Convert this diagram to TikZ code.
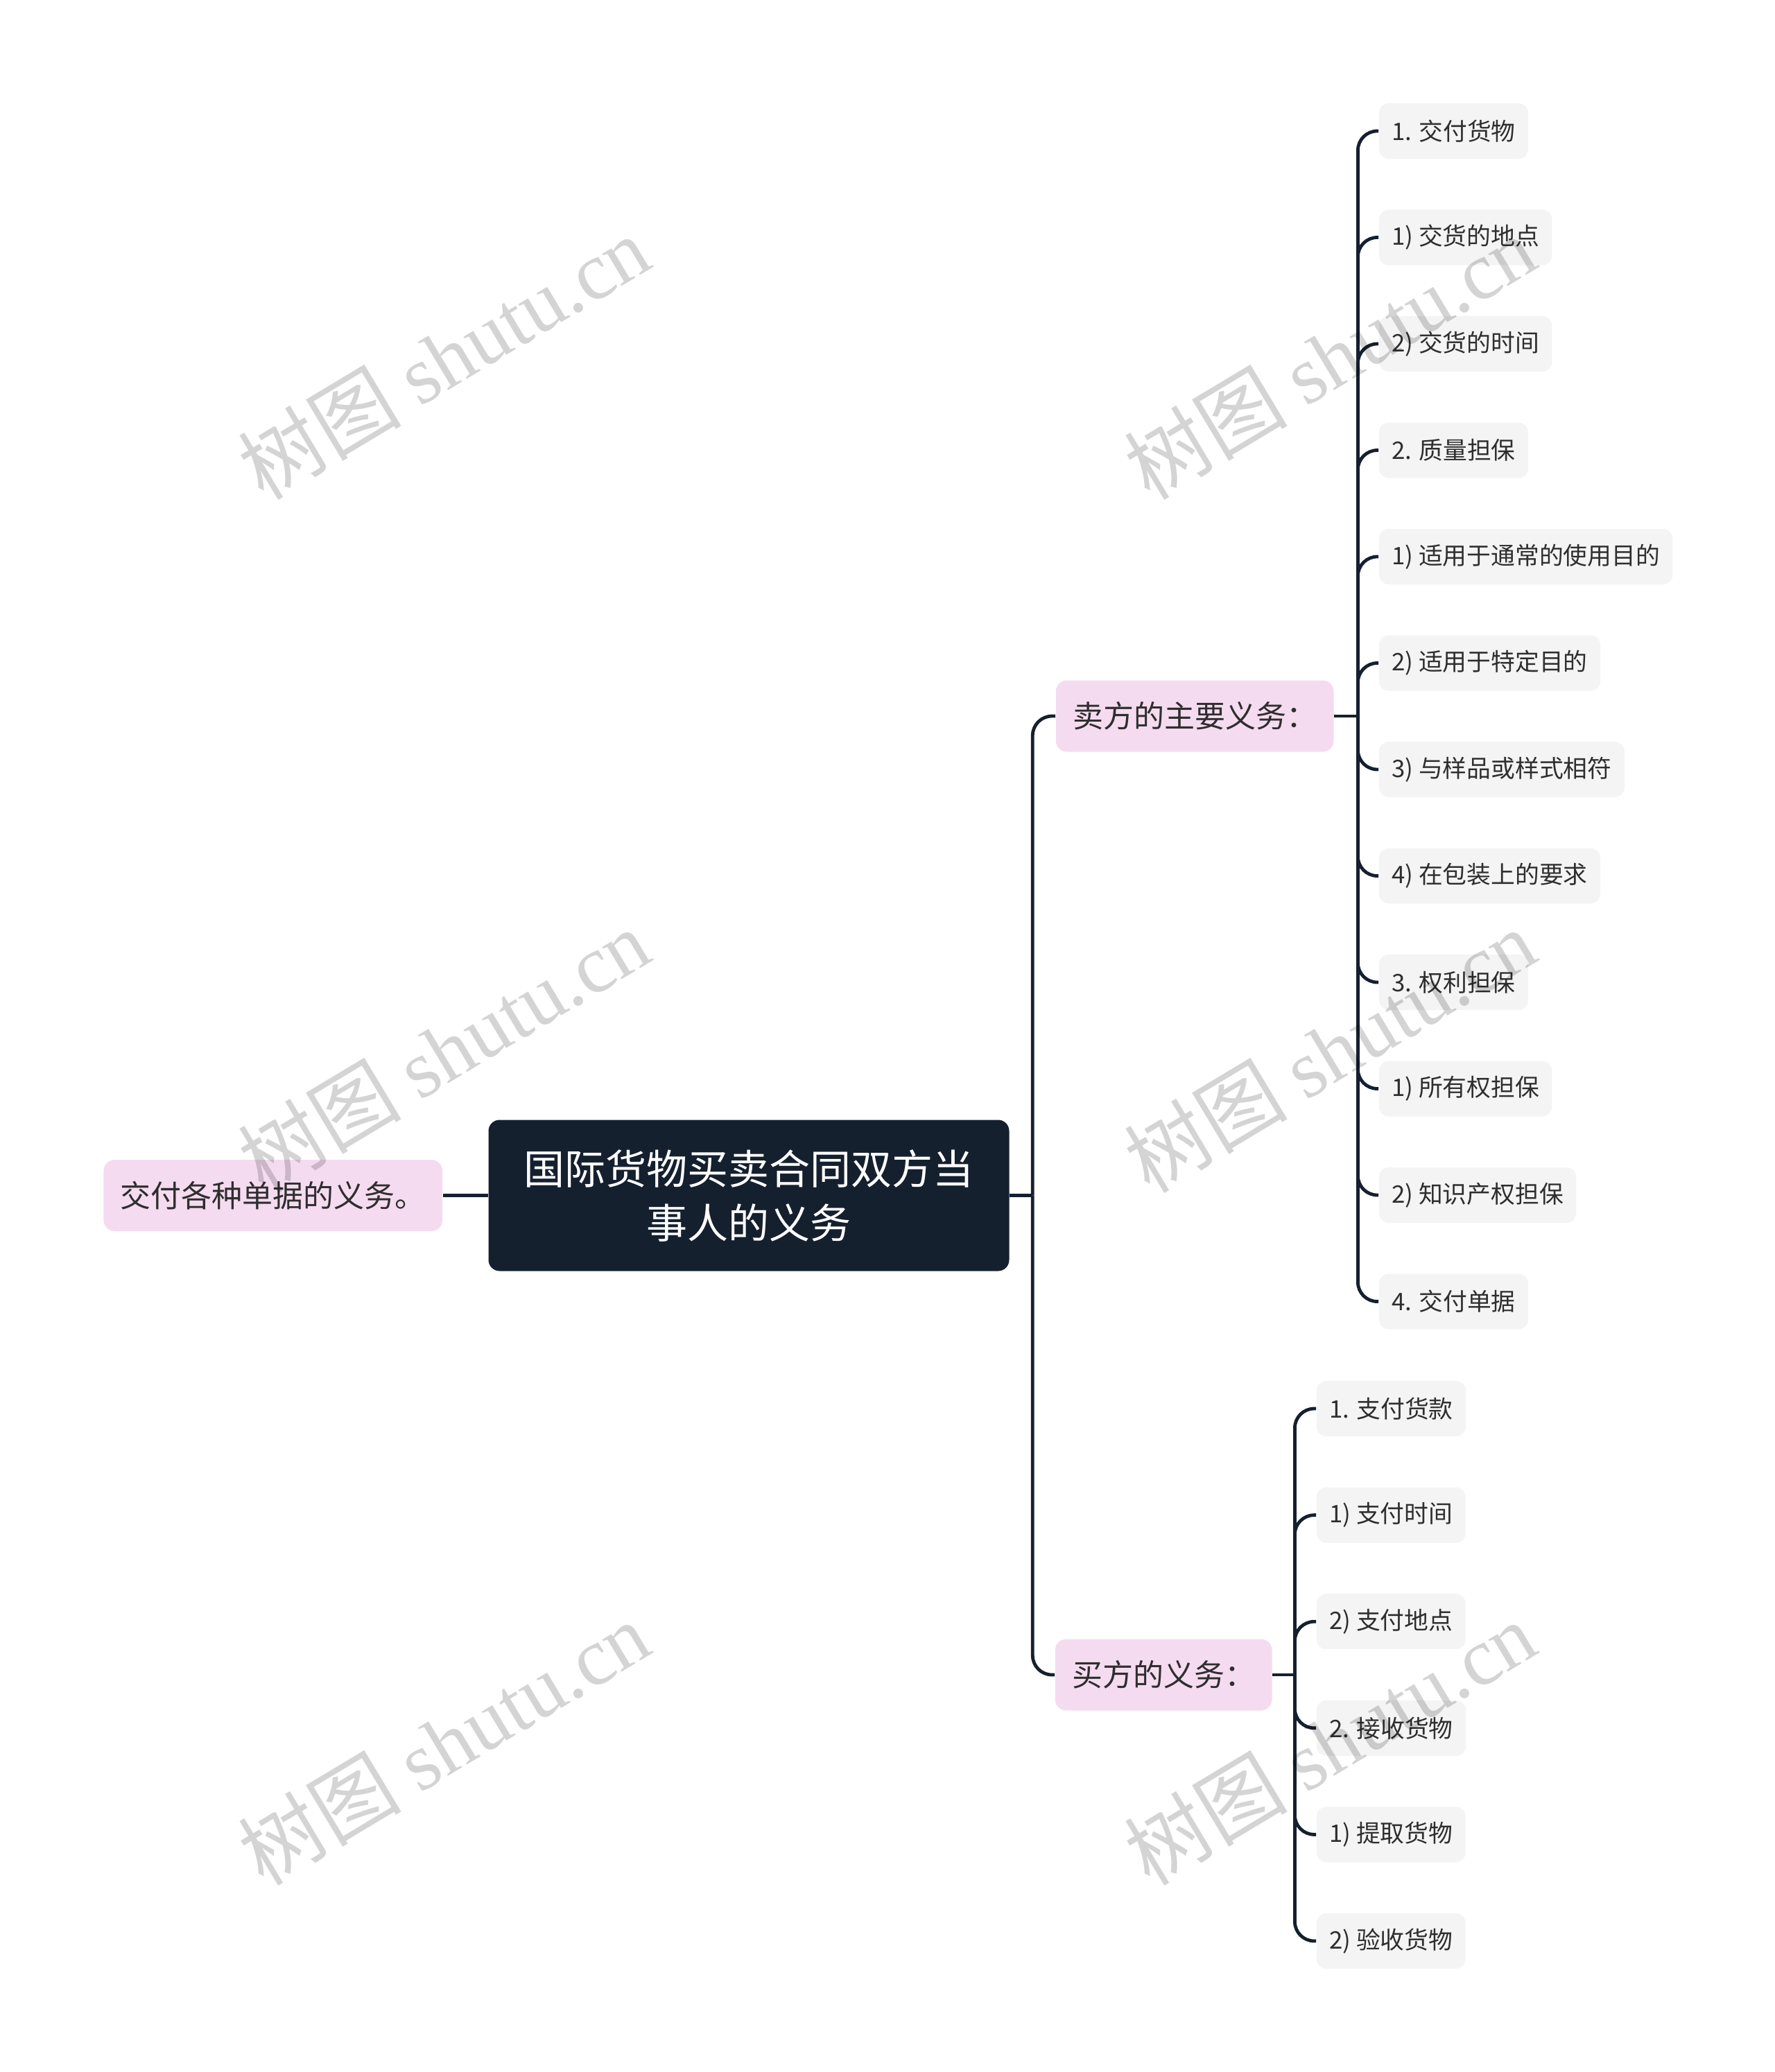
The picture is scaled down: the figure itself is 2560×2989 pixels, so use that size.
\documentclass[tikz,border=0pt]{standalone}
\usepackage{fontspec}
\setmainfont{Noto Sans CJK SC}
\newfontfamily\wmfont{Liberation Serif}
\usepackage{tikz}
\usetikzlibrary{positioning}
\definecolor{navy}{HTML}{15202F}
\definecolor{pinkbg}{HTML}{F5DBF0}
\definecolor{greybg}{HTML}{F4F4F4}
\definecolor{ink}{HTML}{2E2E2E}

\begin{document}
\begin{tikzpicture}[x=0.25pt,y=-0.25pt,
  rootbox/.style={fill=navy,text=white,rounded corners=4pt,align=center,
    font=\fontsize{14.75}{19.5}\selectfont,minimum width=187.75pt,minimum height=54.5pt,inner sep=0pt},
  topic/.style={fill=pinkbg,text=ink,rounded corners=4pt,font=\fontsize{11}{13}\selectfont,
    minimum height=25.75pt,inner xsep=6.1pt,inner ysep=0pt},
  leaf/.style={fill=greybg,text=ink,rounded corners=3.5pt,font=\fontsize{8.7}{10}\selectfont,
    minimum height=20pt,inner xsep=4.6pt,inner ysep=0pt,anchor=west},
  link/.style={draw=navy,line width=1.2pt,rounded corners=7pt},
  wm/.style={text=black,opacity=0.17,rotate=31,font=\fontsize{29.5}{31}\selectfont}]
  \useasboundingbox (0,0) rectangle (2560,2989);

  % centre and first level
  \node[rootbox] (root) at (1080,1724.5) {国际货物买卖合同双方当\\事人的义务};
  \node[topic,anchor=east] (docs) at (639,1724.5) {交付各种单据的义务。};
  \node[topic,anchor=west] (seller) at (1522,1033) {卖方的主要义务：};
  \node[topic,anchor=west] (buyer) at (1521,2416) {买方的义务：};

  % seller items
  \foreach \t [count=\i] in {1. 交付货物,1) 交货的地点,2) 交货的时间,2. 质量担保,
      1) 适用于通常的使用目的,2) 适用于特定目的,3) 与样品或样式相符,4) 在包装上的要求,
      3. 权利担保,1) 所有权担保,2) 知识产权担保,4. 交付单据}
    \node[leaf] (s\i) at ({1988},{189+153.5*(\i-1)}) {\t};

  % buyer items
  \foreach \t [count=\i] in {1. 支付货款,1) 支付时间,2) 支付地点,2. 接收货物,1) 提取货物,2) 验收货物}
    \node[leaf] (b\i) at ({1898},{2032+153.6*(\i-1)}) {\t};

  % connectors
  \coordinate (rj) at ([xshift=8.25pt]root.east);
  \coordinate (sj) at ([xshift=8.5pt]seller.east);
  \coordinate (bj) at ([xshift=8pt]buyer.east);
  \draw[link] (docs.east) -- (root.west);
  \draw[link] (root.east) -- (rj);
  \draw[link] (rj) |- (seller.west);
  \draw[link] (rj) |- (buyer.west);
  \draw[link] (seller.east) -- (sj);
  \draw[link] (buyer.east) -- (bj);
  \foreach \i in {1,...,12}
    \draw[link] (sj) |- (s\i.west);
  \foreach \i in {1,...,6}
    \draw[link] (bj) |- (b\i.west);

  % watermarks
  \foreach \x/\y [count=\k] in {640/515,1918/515,640/1515,1918/1515,640/2514,1918/2514}
    \node[wm] (w\k) at (\x,\y) {树图 {\wmfont shutu.cn}};
\end{tikzpicture}
\end{document}
